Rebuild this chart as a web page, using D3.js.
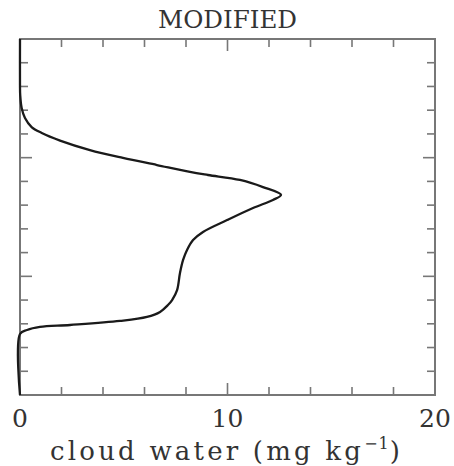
<!DOCTYPE html>
<html>
<head>
<meta charset="utf-8">
<script src="https://cdn.jsdelivr.net/npm/d3@7"></script>
<style>
  html, body { margin: 0; padding: 0; background: #fff; }
  svg { display: block; }
</style>
</head>
<body>
<svg id="chart" width="454" height="466"></svg>
<script>
// Data: cloud water (mg/kg) vs height level (axis 0..15, unlabeled)
const cloudWater = [0, 0, 0.01, 0.08, 0.24, 0.56, 1.05, 1.93, 3.37, 4.96, 6.60, 8.19, 9.06, 10.60, 11.71, 12.58, 12.19, 11.23, 9.98, 8.82, 8.34, 8.05, 7.86, 7.71, 7.57, 7.33, 7.13, 6.75, 6.12, 4.82, 2.41, 0.96, 0.34, 0, 0];
const height = [15.0, 13.06, 12.64, 12.09, 11.67, 11.29, 11.04, 10.72, 10.32, 9.99, 9.69, 9.40, 9.27, 9.06, 8.76, 8.43, 8.22, 7.88, 7.37, 6.87, 6.53, 6.11, 5.69, 5.14, 4.42, 4.00, 3.79, 3.50, 3.29, 3.12, 2.95, 2.87, 2.74, 2.57, 0];
const xTickLabels = ["0", "10", "20"];
const xMajorTicks = [0, 10, 20];
const xMinorTicks = [2, 4, 6, 8, 12, 14, 16, 18];
const yMajorTicks = [5, 10];
const yMinorTicks = [1, 2, 3, 4, 6, 7, 8, 9, 11, 12, 13, 14];
const titleText = "MODIFIED";
const xAxisTitle = "cloud water (mg kg";

const svg = d3.select("#chart");
const L = 20, R = 435, T = 39, B = 395;
const x = d3.scaleLinear().domain([0, 20]).range([L, R]);
const y = d3.scaleLinear().domain([0, 15]).range([B, T]);

const axisColor = "#777";
const textColor = "#333";
const font = "'DejaVu Serif', 'Liberation Serif', serif";

// Ticks (inward on all four sides)
const g = svg.append("g").attr("stroke", axisColor).attr("stroke-width", 1.6);
const minorLen = 8, majorLen = 12;
xMinorTicks.forEach(v => {
  g.append("line").attr("x1", x(v)).attr("x2", x(v)).attr("y1", B).attr("y2", B - minorLen);
  g.append("line").attr("x1", x(v)).attr("x2", x(v)).attr("y1", T).attr("y2", T + minorLen);
});
xMajorTicks.forEach(v => {
  g.append("line").attr("x1", x(v)).attr("x2", x(v)).attr("y1", B).attr("y2", B - majorLen);
  g.append("line").attr("x1", x(v)).attr("x2", x(v)).attr("y1", T).attr("y2", T + majorLen);
});
yMinorTicks.forEach(v => {
  g.append("line").attr("y1", y(v)).attr("y2", y(v)).attr("x1", L).attr("x2", L + minorLen);
  g.append("line").attr("y1", y(v)).attr("y2", y(v)).attr("x1", R).attr("x2", R - minorLen);
});
yMajorTicks.forEach(v => {
  g.append("line").attr("y1", y(v)).attr("y2", y(v)).attr("x1", L).attr("x2", L + majorLen);
  g.append("line").attr("y1", y(v)).attr("y2", y(v)).attr("x1", R).attr("x2", R - majorLen);
});

// Frame
svg.append("rect").attr("x", L).attr("y", T).attr("width", R - L).attr("height", B - T)
  .attr("fill", "none").attr("stroke", axisColor).attr("stroke-width", 2);

// Curve
const pts = cloudWater.map((v, i) => [v, height[i]]);
const line = d3.line().x(d => x(d[0])).y(d => y(d[1])).curve(d3.curveCatmullRom.alpha(0.5));
svg.append("path").datum(pts).attr("d", line)
  .attr("fill", "none").attr("stroke", "#1a1a1a").attr("stroke-width", 2.3)
  .attr("stroke-linejoin", "round");

// Tick labels
xMajorTicks.forEach((v, i) => {
  svg.append("text").attr("x", x(v)).attr("y", 427)
    .attr("text-anchor", "middle").attr("font-family", font).attr("font-size", 25)
    .attr("fill", textColor).text(xTickLabels[i]);
});

// Title
svg.append("text").attr("x", 227.5).attr("y", 28)
  .attr("text-anchor", "middle").attr("font-family", font).attr("font-size", 25)
  .attr("fill", textColor).attr("textLength", 139).attr("lengthAdjust", "spacingAndGlyphs")
  .text(titleText);

// X axis title with superscript
const t = svg.append("text").attr("x", 50).attr("y", 460)
  .attr("font-family", font).attr("font-size", 26).attr("fill", textColor)
  .attr("letter-spacing", 3.2);
t.append("tspan").text(xAxisTitle);
t.append("tspan").attr("dy", -11).attr("font-size", 16).attr("letter-spacing", 1).text("−1");
t.append("tspan").attr("dy", 11).text(")");
</script>
</body>
</html>
